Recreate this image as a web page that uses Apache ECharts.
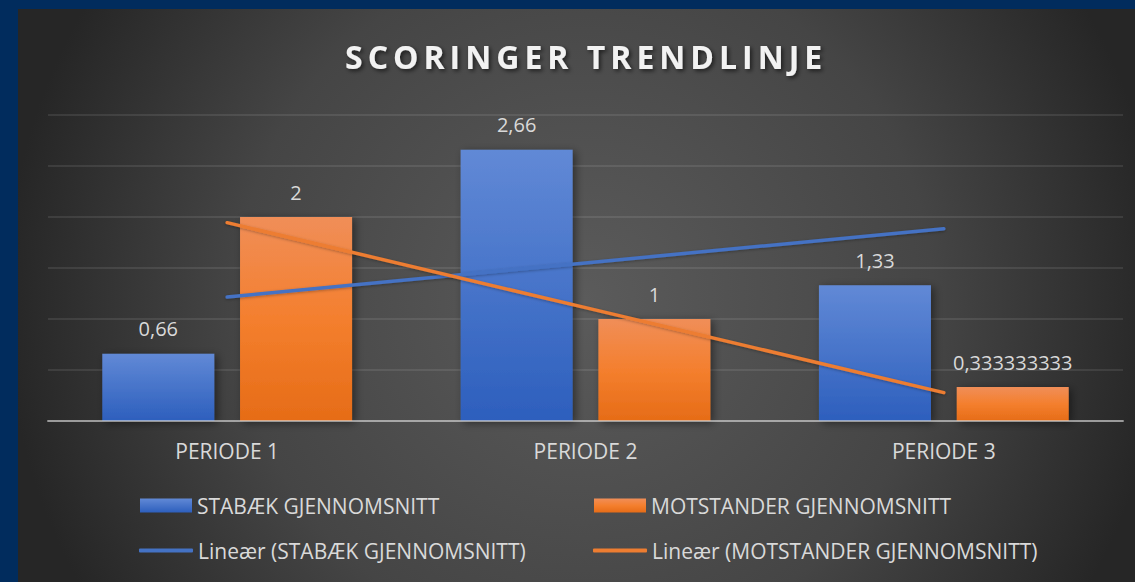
<!DOCTYPE html>
<html><head><meta charset="utf-8">
<script src="https://cdn.jsdelivr.net/npm/echarts@6/dist/echarts.min.js"></script>
<style>
html,body{margin:0;padding:0;background:#012c5d;overflow:hidden;}
#c{width:1135px;height:582px;}
#c svg text[style*="32px"]{letter-spacing:5px;}
</style></head><body><div id="c"></div>
<script>
const categories = ['PERIODE 1', 'PERIODE 2', 'PERIODE 3'];
const stabaek = [0.66, 2.66, 1.33];
const motstander = [2, 1, 0.333333333];
const seriesNames = ['STABÆK GJENNOMSNITT', 'MOTSTANDER GJENNOMSNITT'];
const trendNames = ['Lineær (STABÆK GJENNOMSNITT)', 'Lineær (MOTSTANDER GJENNOMSNITT)'];
const titleText = 'SCORINGER TRENDLINJE';
const yMin = 0, yMax = 3, yInterval = 0.5;

function linearTrend(vals) {
  const n = vals.length;
  let sx = 0, sy = 0, sxx = 0, sxy = 0;
  vals.forEach((v, i) => { const x = i + 1; sx += x; sy += v; sxx += x * x; sxy += x * v; });
  const b = (n * sxy - sx * sy) / (n * sxx - sx * sx);
  const a = (sy - b * sx) / n;
  return vals.map((v, i) => a + b * (i + 1));
}

const FONT = "'Open Sans', 'DejaVu Sans', sans-serif";
const TXT = '#d9d9d9';
const blue = '#4472c4', orange = '#ed7d31';
const blueGrad = new echarts.graphic.LinearGradient(0, 0, 0, 1, [
  { offset: 0, color: '#6189d6' }, { offset: 1, color: '#2d5fbd' }]);
const orangeGrad = new echarts.graphic.LinearGradient(0, 0, 0, 1, [
  { offset: 0, color: '#f08e58' }, { offset: 0.5, color: '#f47f2e' }, { offset: 1, color: '#e66c17' }]);

const fmt = p => String(p.value).replace('.', ',');

const chart = echarts.init(document.getElementById('c'), null, { renderer: 'svg' });

function legendAt(name, left, top, isLine) {
  return {
    data: [name], left: left, top: top, padding: 0, selectedMode: false,
    icon: isLine ? 'roundRect' : 'rect',
    itemWidth: isLine ? 54 : 52, itemHeight: isLine ? 4 : 14, itemGap: 0,
    textStyle: { color: TXT, fontSize: 21, fontFamily: FONT, padding: [0, 0, 0, 0] }
  };
}

chart.setOption({
  animation: false,
  backgroundColor: '#012c5d',
  graphic: [{
    type: 'rect', z: -10, silent: true,
    shape: { x: 18, y: 9, width: 1117, height: 573 },
    style: {
      fill: new echarts.graphic.RadialGradient(585, 300, 580, [
        { offset: 0, color: '#5b5b5b' }, { offset: 0.6, color: '#454545' }, { offset: 1, color: '#262626' }], true)
    }
  }],
  title: {
    text: titleText, left: 345, top: 40, padding: 0,
    textStyle: {
      color: '#f2f2f2', fontSize: 32, fontWeight: 'bold', fontFamily: FONT,
      textShadowColor: 'rgba(0,0,0,0.6)', textShadowBlur: 4, textShadowOffsetX: 2, textShadowOffsetY: 2
    }
  },
  legend: [
    legendAt(seriesNames[0], 140, 495, false),
    legendAt(seriesNames[1], 594, 495, false),
    legendAt(trendNames[0], 139, 540, true),
    legendAt(trendNames[1], 593, 540, true)
  ],
  grid: { left: 48, right: 12, top: 115, bottom: 161, containLabel: false },
  xAxis: {
    type: 'category', data: categories, z: 5,
    axisLine: { lineStyle: { color: 'rgba(217,217,217,0.6)', width: 2 } },
    axisTick: { show: false },
    axisLabel: { color: TXT, fontSize: 21, fontFamily: FONT, margin: 19 },
    splitLine: { show: false }
  },
  yAxis: {
    type: 'value', min: yMin, max: yMax, interval: yInterval,
    axisLabel: { show: false }, axisLine: { show: false }, axisTick: { show: false },
    splitLine: { lineStyle: { color: 'rgba(255,255,255,0.12)', width: 1.5 } }
  },
  series: [
    {
      name: seriesNames[0], type: 'bar', data: stabaek, barWidth: 112, barGap: '23%',
      itemStyle: { color: blueGrad, shadowColor: 'rgba(0,0,0,0.45)', shadowBlur: 8, shadowOffsetX: 3, shadowOffsetY: 2 },
      label: { show: true, position: 'top', distance: 15, color: TXT, fontSize: 20, fontFamily: FONT, formatter: fmt }
    },
    {
      name: seriesNames[1], type: 'bar', data: motstander, barWidth: 112,
      itemStyle: { color: orangeGrad, shadowColor: 'rgba(0,0,0,0.45)', shadowBlur: 8, shadowOffsetX: 3, shadowOffsetY: 2 },
      label: { show: true, position: 'top', distance: 15, color: TXT, fontSize: 20, fontFamily: FONT, formatter: fmt }
    },
    {
      name: trendNames[0], type: 'line', data: linearTrend(stabaek), symbol: 'none', z: 3,
      itemStyle: { color: blue },
      lineStyle: { color: blue, width: 3.5, cap: 'round', shadowColor: 'rgba(0,0,0,0.3)', shadowBlur: 3, shadowOffsetY: 1 }
    },
    {
      name: trendNames[1], type: 'line', data: linearTrend(motstander), symbol: 'none', z: 3,
      itemStyle: { color: orange },
      lineStyle: { color: orange, width: 3.5, cap: 'round', shadowColor: 'rgba(0,0,0,0.3)', shadowBlur: 3, shadowOffsetY: 1 }
    }
  ]
});
</script></body></html>
